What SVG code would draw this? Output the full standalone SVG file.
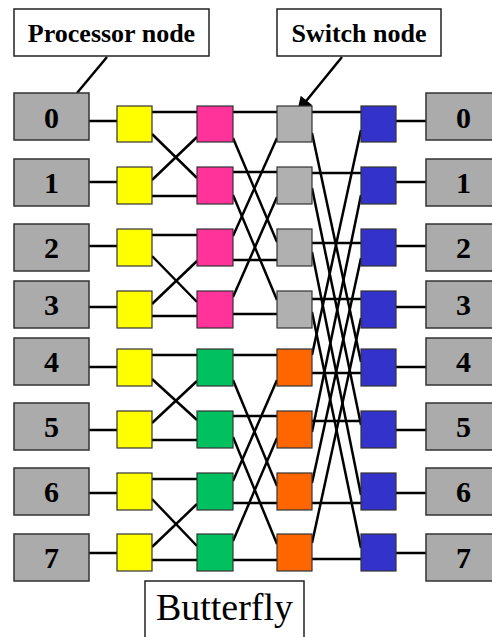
<svg xmlns="http://www.w3.org/2000/svg" width="492" height="637" viewBox="0 0 492 637">
<style>
.proc{fill:#ababab;stroke:#333;stroke-width:1.5}
.sw{stroke:#333;stroke-width:1.2}
.y{fill:#ffff00}.p{fill:#ff3399}.g{fill:#00c060}.gr{fill:#b0b0b0}.o{fill:#ff6600}.b{fill:#3333cc}
.num{font-family:"Liberation Serif","Times New Roman",serif;font-weight:bold;font-size:30px;text-anchor:middle;fill:#000}
.lbl{fill:#fff;stroke:#222;stroke-width:1.5}
.lt{font-family:"Liberation Serif","Times New Roman",serif;font-weight:bold;font-size:26px;text-anchor:middle;fill:#000}
.bt{font-family:"Liberation Serif","Times New Roman",serif;font-size:38px;text-anchor:middle;fill:#000}
#connectors line{stroke:#000;stroke-width:2.5}
</style>
<defs>
<marker id="ah" viewBox="0 0 10 10" refX="9" refY="5" markerWidth="7" markerHeight="6" orient="auto" markerUnits="strokeWidth">
<path d="M0,0 L10,5 L0,10 z" fill="#000"/>
</marker>
</defs>
<rect width="492" height="637" fill="#fff"/>

<g id="connectors">
<line x1="89" y1="121" x2="117" y2="121"/>
<line x1="89" y1="182" x2="117" y2="182"/>
<line x1="89" y1="246" x2="117" y2="246"/>
<line x1="89" y1="307" x2="117" y2="307"/>
<line x1="89" y1="367" x2="117" y2="367"/>
<line x1="89" y1="430" x2="117" y2="430"/>
<line x1="89" y1="493" x2="117" y2="493"/>
<line x1="89" y1="553" x2="117" y2="553"/>
<line x1="396" y1="121" x2="426" y2="121"/>
<line x1="396" y1="182" x2="426" y2="182"/>
<line x1="396" y1="246" x2="426" y2="246"/>
<line x1="396" y1="307" x2="426" y2="307"/>
<line x1="396" y1="367" x2="426" y2="367"/>
<line x1="396" y1="430" x2="426" y2="430"/>
<line x1="396" y1="493" x2="426" y2="493"/>
<line x1="396" y1="553" x2="426" y2="553"/>
<line x1="152" y1="112" x2="197" y2="112"/>
<line x1="152" y1="196" x2="197" y2="196"/>
<line x1="152" y1="134" x2="197" y2="178"/>
<line x1="152" y1="180" x2="197" y2="137"/>
<line x1="152" y1="235" x2="197" y2="235"/>
<line x1="152" y1="316" x2="197" y2="316"/>
<line x1="152" y1="256" x2="197" y2="302"/>
<line x1="152" y1="304" x2="197" y2="261"/>
<line x1="152" y1="355" x2="197" y2="355"/>
<line x1="152" y1="440" x2="197" y2="440"/>
<line x1="152" y1="379" x2="197" y2="420"/>
<line x1="152" y1="423" x2="197" y2="381"/>
<line x1="152" y1="479" x2="197" y2="479"/>
<line x1="152" y1="560" x2="197" y2="560"/>
<line x1="152" y1="499" x2="197" y2="546"/>
<line x1="152" y1="547" x2="197" y2="504"/>
<line x1="233" y1="112" x2="277" y2="112"/>
<line x1="233" y1="172" x2="277" y2="172"/>
<line x1="233" y1="260" x2="277" y2="260"/>
<line x1="233" y1="314" x2="277" y2="314"/>
<line x1="233" y1="138" x2="277" y2="242"/>
<line x1="233" y1="195" x2="277" y2="300"/>
<line x1="233" y1="236" x2="277" y2="138"/>
<line x1="233" y1="297" x2="277" y2="197"/>
<line x1="233" y1="355" x2="277" y2="355"/>
<line x1="233" y1="416" x2="277" y2="416"/>
<line x1="233" y1="503" x2="277" y2="503"/>
<line x1="233" y1="560" x2="277" y2="560"/>
<line x1="233" y1="380" x2="277" y2="486"/>
<line x1="233" y1="437" x2="277" y2="544"/>
<line x1="233" y1="481" x2="277" y2="380"/>
<line x1="233" y1="541" x2="277" y2="438"/>
<line x1="312" y1="112" x2="361" y2="112"/>
<line x1="312" y1="173" x2="361" y2="173"/>
<line x1="312" y1="243" x2="361" y2="243"/>
<line x1="312" y1="299" x2="361" y2="299"/>
<line x1="312" y1="373" x2="361" y2="373"/>
<line x1="312" y1="421" x2="361" y2="421"/>
<line x1="312" y1="503" x2="361" y2="503"/>
<line x1="312" y1="559" x2="361" y2="559"/>
<line x1="312" y1="133" x2="361" y2="362"/>
<line x1="312" y1="188" x2="361" y2="425"/>
<line x1="312" y1="252" x2="361" y2="495"/>
<line x1="312" y1="312" x2="361" y2="548"/>
<line x1="312" y1="355" x2="361" y2="130"/>
<line x1="312" y1="432" x2="361" y2="195"/>
<line x1="312" y1="483" x2="361" y2="258"/>
<line x1="312" y1="543" x2="361" y2="318"/>
<line x1="107" y1="57" x2="77" y2="93"/>
<line x1="342" y1="57" x2="298" y2="111" marker-end="url(#ah)"/>
</g>

<g id="proc-left">
<g id="pl0"><rect class="proc" x="14" y="93" width="75" height="47"/><text class="num" x="51.5" y="128">0</text></g>
<g id="pl1"><rect class="proc" x="14" y="159" width="75" height="47"/><text class="num" x="51.5" y="193">1</text></g>
<g id="pl2"><rect class="proc" x="14" y="224" width="75" height="47"/><text class="num" x="51.5" y="258">2</text></g>
<g id="pl3"><rect class="proc" x="14" y="281" width="75" height="47"/><text class="num" x="51.5" y="315">3</text></g>
<g id="pl4"><rect class="proc" x="14" y="338" width="75" height="47"/><text class="num" x="51.5" y="372">4</text></g>
<g id="pl5"><rect class="proc" x="14" y="403" width="75" height="47"/><text class="num" x="51.5" y="437">5</text></g>
<g id="pl6"><rect class="proc" x="14" y="468" width="75" height="47"/><text class="num" x="51.5" y="502">6</text></g>
<g id="pl7"><rect class="proc" x="14" y="534" width="75" height="47"/><text class="num" x="51.5" y="568">7</text></g>
</g>

<g id="proc-right">
<g id="pr0"><rect class="proc" x="426" y="93" width="75" height="47"/><text class="num" x="463.5" y="128">0</text></g>
<g id="pr1"><rect class="proc" x="426" y="159" width="75" height="47"/><text class="num" x="463.5" y="193">1</text></g>
<g id="pr2"><rect class="proc" x="426" y="224" width="75" height="47"/><text class="num" x="463.5" y="258">2</text></g>
<g id="pr3"><rect class="proc" x="426" y="281" width="75" height="47"/><text class="num" x="463.5" y="315">3</text></g>
<g id="pr4"><rect class="proc" x="426" y="338" width="75" height="47"/><text class="num" x="463.5" y="372">4</text></g>
<g id="pr5"><rect class="proc" x="426" y="403" width="75" height="47"/><text class="num" x="463.5" y="437">5</text></g>
<g id="pr6"><rect class="proc" x="426" y="468" width="75" height="47"/><text class="num" x="463.5" y="502">6</text></g>
<g id="pr7"><rect class="proc" x="426" y="534" width="75" height="47"/><text class="num" x="463.5" y="568">7</text></g>
</g>

<g id="stage1">
<g id="s1-0"><rect class="sw y" x="117" y="106" width="35" height="36"/></g>
<g id="s1-1"><rect class="sw y" x="117" y="167" width="35" height="37"/></g>
<g id="s1-2"><rect class="sw y" x="117" y="229" width="35" height="37"/></g>
<g id="s1-3"><rect class="sw y" x="117" y="291" width="35" height="37"/></g>
<g id="s1-4"><rect class="sw y" x="117" y="349" width="35" height="37"/></g>
<g id="s1-5"><rect class="sw y" x="117" y="411" width="35" height="37"/></g>
<g id="s1-6"><rect class="sw y" x="117" y="473" width="35" height="37"/></g>
<g id="s1-7"><rect class="sw y" x="117" y="534" width="35" height="37"/></g>
</g>

<g id="stage2">
<g id="s2-0"><rect class="sw p" x="197" y="106" width="36" height="36"/></g>
<g id="s2-1"><rect class="sw p" x="197" y="167" width="36" height="37"/></g>
<g id="s2-2"><rect class="sw p" x="197" y="229" width="36" height="37"/></g>
<g id="s2-3"><rect class="sw p" x="197" y="291" width="36" height="37"/></g>
<g id="s2-4"><rect class="sw g" x="197" y="349" width="36" height="37"/></g>
<g id="s2-5"><rect class="sw g" x="197" y="411" width="36" height="37"/></g>
<g id="s2-6"><rect class="sw g" x="197" y="473" width="36" height="37"/></g>
<g id="s2-7"><rect class="sw g" x="197" y="534" width="36" height="37"/></g>
</g>

<g id="stage3">
<g id="s3-0"><rect class="sw gr" x="277" y="106" width="35" height="36"/></g>
<g id="s3-1"><rect class="sw gr" x="277" y="167" width="35" height="37"/></g>
<g id="s3-2"><rect class="sw gr" x="277" y="229" width="35" height="37"/></g>
<g id="s3-3"><rect class="sw gr" x="277" y="291" width="35" height="37"/></g>
<g id="s3-4"><rect class="sw o" x="277" y="349" width="35" height="37"/></g>
<g id="s3-5"><rect class="sw o" x="277" y="411" width="35" height="37"/></g>
<g id="s3-6"><rect class="sw o" x="277" y="473" width="35" height="37"/></g>
<g id="s3-7"><rect class="sw o" x="277" y="534" width="35" height="37"/></g>
</g>

<g id="stage4">
<g id="s4-0"><rect class="sw b" x="361" y="106" width="35" height="36"/></g>
<g id="s4-1"><rect class="sw b" x="361" y="167" width="35" height="37"/></g>
<g id="s4-2"><rect class="sw b" x="361" y="229" width="35" height="37"/></g>
<g id="s4-3"><rect class="sw b" x="361" y="291" width="35" height="37"/></g>
<g id="s4-4"><rect class="sw b" x="361" y="349" width="35" height="37"/></g>
<g id="s4-5"><rect class="sw b" x="361" y="411" width="35" height="37"/></g>
<g id="s4-6"><rect class="sw b" x="361" y="473" width="35" height="37"/></g>
<g id="s4-7"><rect class="sw b" x="361" y="534" width="35" height="37"/></g>
</g>

<g id="label-processor"><rect class="lbl" x="14" y="9" width="195" height="47"/><text class="lt" x="111.5" y="42">Processor node</text></g>
<g id="label-switch"><rect class="lbl" x="277" y="9" width="164" height="47"/><text class="lt" x="359" y="42">Switch node</text></g>
<g id="label-butterfly"><rect class="lbl" x="145" y="581" width="159" height="70"/><text class="bt" x="224.5" y="620">Butterfly</text></g>
</svg>
